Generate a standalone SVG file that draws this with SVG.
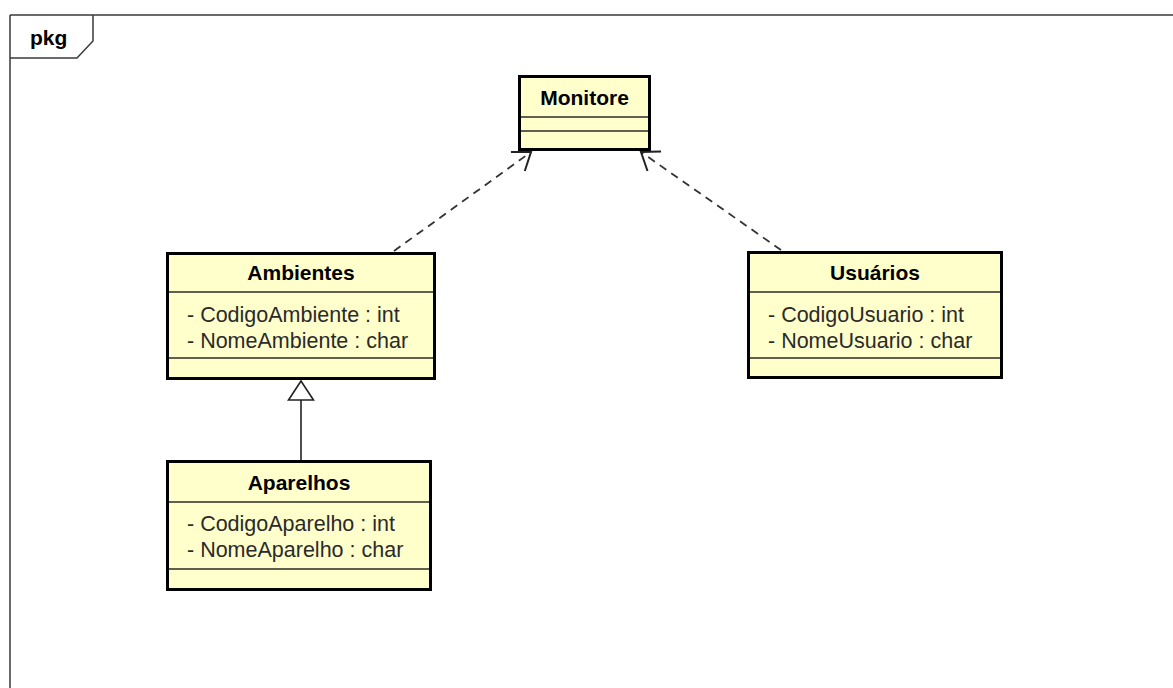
<svg xmlns="http://www.w3.org/2000/svg" width="1173" height="688" viewBox="0 0 1173 688">
  <style>
    .frame { fill: none; stroke: #3a3a3a; stroke-width: 1.5; }
    .box { fill: #FFFFCC; stroke: #000; stroke-width: 3; }
    .sep { stroke: #2a2a2a; stroke-width: 1.5; }
    .title { font-family: "Liberation Sans", Arial, sans-serif; font-size: 21px; font-weight: bold; fill: #000; text-anchor: middle; }
    .attr { font-family: "Liberation Sans", Arial, sans-serif; font-size: 21.5px; fill: #2a2a2a; }
    .pkg { font-family: "Liberation Sans", Arial, sans-serif; font-size: 21px; font-weight: bold; fill: #000; }
    .dep { fill: none; stroke: #333; stroke-width: 1.8; stroke-dasharray: 8 6; }
    .gen { fill: none; stroke: #222; stroke-width: 1.6; }
  </style>
  <defs>
    <marker id="openArrow" markerUnits="userSpaceOnUse" markerWidth="40" markerHeight="40" refX="0" refY="0" viewBox="-22 -20 24 40" orient="auto" overflow="visible">
      <path d="M-16.2,-11.8 L0,0 L-16.2,11.8" fill="none" stroke="#222" stroke-width="2"/>
    </marker>
    <marker id="hollowTriangle" markerUnits="userSpaceOnUse" markerWidth="40" markerHeight="40" refX="0" refY="0" viewBox="-22 -20 24 40" orient="auto" overflow="visible">
      <path d="M0,0 L-19,-12.5 L-19,12.5 Z" fill="#fff" stroke="#222" stroke-width="1.6"/>
    </marker>
  </defs>

  <!-- package frame -->
  <g id="package">
    <path class="frame" d="M10,15 H1173 M10,15 V688"/>
    <path class="frame" d="M10,58 H77 L93,41 V15"/>
    <text class="pkg" x="30" y="45">pkg</text>
  </g>

  <!-- connectors -->
  <g id="connectors">
    <line class="dep" x1="394" y1="251" x2="531" y2="152" marker-end="url(#openArrow)"/>
    <line class="dep" x1="781" y1="250" x2="641" y2="152" marker-end="url(#openArrow)"/>
    <line class="gen" x1="301" y1="461" x2="301" y2="381" marker-end="url(#hollowTriangle)"/>
  </g>

  <!-- classes -->
  <g id="Monitore">
    <rect class="box" x="519.5" y="76.5" width="130" height="73"/>
    <line class="sep" x1="521" y1="117" x2="648" y2="117"/>
    <line class="sep" x1="521" y1="131" x2="648" y2="131"/>
    <text class="title" x="584.5" y="105">Monitore</text>
  </g>

  <g id="Ambientes">
    <rect class="box" x="167.5" y="253.5" width="267" height="125"/>
    <line class="sep" x1="169" y1="292" x2="433" y2="292"/>
    <line class="sep" x1="169" y1="358" x2="433" y2="358"/>
    <text class="title" x="301" y="280">Ambientes</text>
    <text class="attr" x="187" y="322">- CodigoAmbiente : int</text>
    <text class="attr" x="187" y="348">- NomeAmbiente : char</text>
  </g>

  <g id="Usuarios">
    <rect class="box" x="748.5" y="252.5" width="253" height="125"/>
    <line class="sep" x1="750" y1="292" x2="1000" y2="292"/>
    <line class="sep" x1="750" y1="358" x2="1000" y2="358"/>
    <text class="title" x="875" y="280">Usuários</text>
    <text class="attr" x="768" y="322">- CodigoUsuario : int</text>
    <text class="attr" x="768" y="348">- NomeUsuario : char</text>
  </g>

  <g id="Aparelhos">
    <rect class="box" x="167.5" y="461.5" width="263" height="128"/>
    <line class="sep" x1="169" y1="502" x2="429" y2="502"/>
    <line class="sep" x1="169" y1="569" x2="429" y2="569"/>
    <text class="title" x="299" y="490">Aparelhos</text>
    <text class="attr" x="187" y="531">- CodigoAparelho : int</text>
    <text class="attr" x="187" y="557">- NomeAparelho : char</text>
  </g>
</svg>
